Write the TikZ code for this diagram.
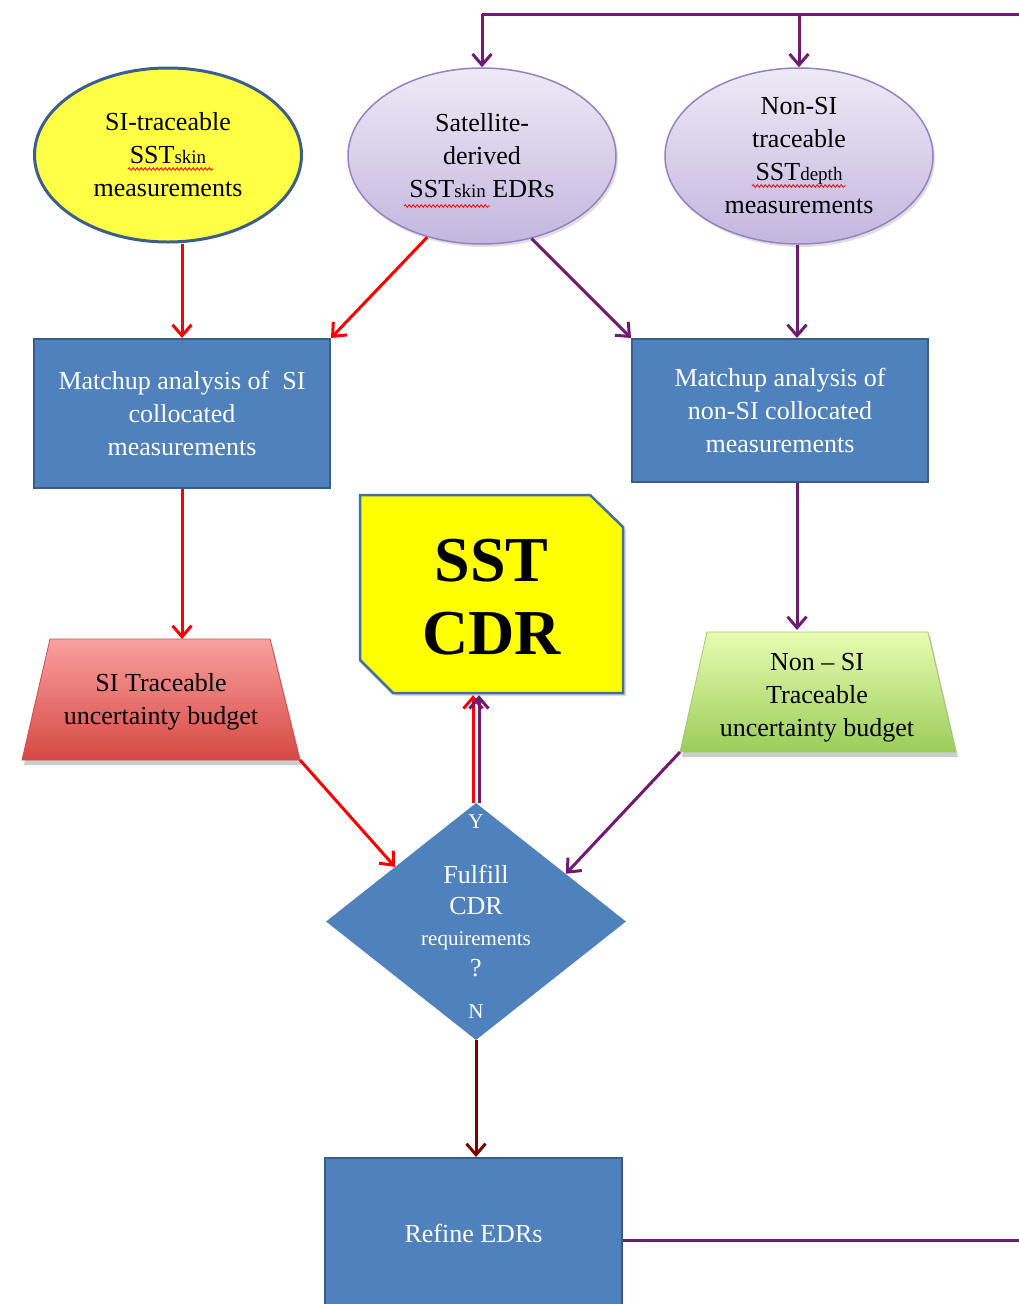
\documentclass[tikz,border=0pt]{standalone}
\usepackage{fontspec}
\setmainfont{Liberation Serif}
\usetikzlibrary{arrows.meta,shapes.geometric,shadows,decorations.pathmorphing,calc}
\definecolor{pur}{RGB}{112,26,116}
\definecolor{boxblue}{RGB}{79,129,189}
\definecolor{boxedge}{RGB}{56,93,138}
\definecolor{dred}{RGB}{128,0,0}
\definecolor{ellyel}{RGB}{255,255,70}
\definecolor{elledge}{RGB}{59,94,140}
\definecolor{lavtop}{RGB}{238,234,246}
\definecolor{lavbot}{RGB}{196,182,222}
\definecolor{lavedge}{RGB}{150,130,195}
\definecolor{cdredge}{RGB}{65,113,156}
\definecolor{cdryel}{RGB}{255,255,0}
\definecolor{redtop}{RGB}{250,160,160}
\definecolor{redbot}{RGB}{214,72,66}
\definecolor{rededge}{RGB}{200,80,80}
\definecolor{grntop}{RGB}{232,252,178}
\definecolor{grnbot}{RGB}{155,205,90}
\definecolor{grnedge}{RGB}{160,200,110}
\newcommand\mainsz{\fontsize{26}{33}\selectfont}
\newcommand\subsz{\fontsize{19}{33}\selectfont}
\newcommand\reqsz{\fontsize{21}{31}\selectfont}
\newcommand\bigsz{\fontsize{64}{73}\selectfont\bfseries}
\begin{document}
\begin{tikzpicture}[x=1pt,y=-1pt,
  arr/.style={line width=3pt,-{Straight Barb[length=11pt,width=19pt]}},
  ln/.style={line width=3pt},
  ellY/.style={ellipse,draw=elledge,line width=3pt,fill=ellyel,minimum width=267pt,minimum height=174pt,inner sep=0pt,align=center,font=\mainsz},
  ellP/.style={ellipse,draw=lavedge,line width=1.5pt,top color=lavtop,bottom color=lavbot,minimum width=268pt,minimum height=176pt,inner sep=0pt,align=center,font=\mainsz,drop shadow={opacity=0.25,shadow xshift=2pt,shadow yshift=-3pt}},
  bbox/.style={rectangle,draw=boxedge,line width=2pt,fill=boxblue,text=white,align=center,font=\mainsz,minimum width=296pt,inner sep=0pt},
  ttext/.style={align=center,font=\mainsz,inner sep=0pt},
  wtext/.style={align=center,font=\mainsz,text=white,inner sep=0pt},
  wave/.style={red,line width=0.8pt,decorate,decoration={snake,amplitude=1.4pt,segment length=4pt}}
]
\useasboundingbox (0,0) rectangle (1019,1304);
\clip (0,0) rectangle (1019,1304);

% ellipses
\node[ellY] (e1) at (168,155) {SI-traceable\\SST{\subsz skin}\\measurements};
\node[ellP] (e2) at (482,156) {Satellite-\\derived\\SST{\subsz skin} EDRs};
\node[ellP] (e3) at (799,156) {Non-SI\\traceable\\SST{\subsz depth}\\measurements};
\draw[wave] (128,169) -- (213,169);
\draw[wave] (404,206) -- (490,206);
\draw[wave] (752,186) -- (846,186);

% boxes
\node[bbox,minimum height=149pt] (b1) at (182,413.5) {Matchup analysis of \ SI\\collocated\\measurements};
\node[bbox,minimum height=143pt] (b2) at (780,410.5) {Matchup analysis of\\non-SI collocated\\measurements};

% SST CDR
\fill[black,opacity=0.15] (363,498) -- (593,498) -- (626,530) -- (626,696) -- (396,696) -- (363,663) -- cycle;
\draw[cdredge,line width=2.5pt,fill=cdryel] (360,495) -- (590,495) -- (623,527) -- (623,693) -- (393,693) -- (360,660) -- cycle;
\node[minimum width=263pt,minimum height=198pt,inner sep=0pt] (cdr) at (491.5,594) {};
\node[ttext,font=\bigsz] (cdrt) at (491.5,597) {SST\\CDR};

% trapezoids
\coordinate (tlA) at (50,639); \coordinate (tlB) at (270,639);
\coordinate (tlC) at (300,760); \coordinate (tlD) at (22,760);
\fill[black,opacity=0.2] ($(tlA)+(2,4)$) -- ($(tlB)+(2,4)$) -- ($(tlC)+(2,5)$) -- ($(tlD)+(2,5)$) -- cycle;
\shade[top color=redtop,bottom color=redbot,draw=rededge,line width=0.8pt] (tlA) -- (tlB) -- (tlC) -- (tlD) -- cycle;
\node[ttext] (tl) at (161,702) {SI Traceable\\uncertainty budget};

\coordinate (trA) at (707,632); \coordinate (trB) at (928,632);
\coordinate (trC) at (956,752); \coordinate (trD) at (680,752);
\fill[black,opacity=0.2] ($(trA)+(2,4)$) -- ($(trB)+(2,4)$) -- ($(trC)+(2,5)$) -- ($(trD)+(2,5)$) -- cycle;
\shade[top color=grntop,bottom color=grnbot,draw=grnedge,line width=0.8pt] (trA) -- (trB) -- (trC) -- (trD) -- cycle;
\node[ttext] (tr) at (817,698) {Non -- SI\\Traceable\\uncertainty budget};

% diamond
\node[diamond,fill=boxblue,minimum width=300pt,minimum height=237pt,inner sep=0pt] (dia) at (476,921.5) {};
\node[wtext,font=\fontsize{21}{25}\selectfont] (dy) at (476,822) {Y};
\node[wtext,font=\fontsize{26}{31}\selectfont] (dq) at (476,921) {Fulfill\\CDR\\{\reqsz requirements}\\?};
\node[wtext,font=\fontsize{21}{25}\selectfont] (dn) at (476,1012) {N};

% refine
\node[bbox,minimum width=297pt,minimum height=150pt] (ref) at (473.5,1233) {Refine EDRs};

% connectors
\draw[arr,red] (b1.north |- e1.south) -- (b1.north);
\draw[arr,red] (e2.236) -- (b1.north east);
\draw[arr,pur] (e2.301) -- (b2.north west);
\coordinate (c3) at (797,0);
\draw[arr,pur] (c3 |- e3.south) -- (c3 |- b2.north);
\draw[arr,red] (b1.south) -- (b1.south |- tlA);
\draw[arr,pur] (c3 |- b2.south) -- ($(c3 |- trA)+(0,-2)$);
\draw[arr,red] (tlC) -- (dia.146);
\draw[arr,pur] (trD) -- (dia.28);
\draw[arr,red] ($(dia.north)+(-3,0)$) -- ($(cdr.south)+(-18.5,2)$);
\draw[arr,pur] ($(dia.north)+(3,0)$) -- ($(cdr.south)+(-12.5,2)$);
\draw[arr,dred] (dia.south) -- (dia.south |- ref.north);

% feedback loop
\coordinate (loopR) at (1035,14);
\coordinate (t2) at (e2.north |- loopR);
\coordinate (t3) at (e3.north |- loopR);
\draw[ln,pur] ($(ref.east)+(0,7)$) -| (loopR) -- (t2);
\draw[arr,pur] (t2) -- (e2.north);
\draw[arr,pur] (t3) -- (e3.north);
\end{tikzpicture}
\end{document}
